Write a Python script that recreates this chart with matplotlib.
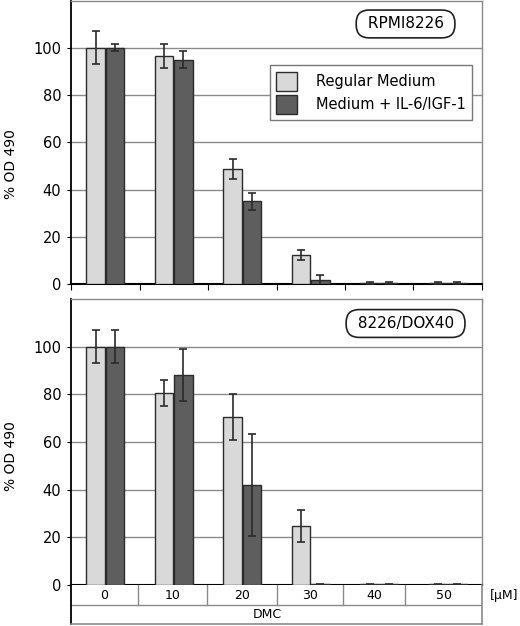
#!/usr/bin/env python3
"""DMC dose response in RPMI8226 and 8226/DOX40 cells, +/- IL-6/IGF-1."""

import matplotlib

matplotlib.use("Agg")
import matplotlib.pyplot as plt
from matplotlib.patches import Patch

doses = ["0", "10", "20", "30", "40", "50"]
series_names = ["Regular Medium", "Medium + IL-6/IGF-1"]
cell_lines = ["RPMI8226", "8226/DOX40"]

rpmi_regular = [100, 96.5, 48.5, 12.3, 0.5, 0.5]
rpmi_regular_err = [7, 5, 4.2, 2, 0.3, 0.3]
rpmi_il6 = [100, 95, 35, 1.5, 0.5, 0.5]
rpmi_il6_err = [1.5, 3.7, 3.5, 2.5, 0.3, 0.3]

dox_regular = [100, 80.5, 70.5, 24.8, 0.3, 0.3]
dox_regular_err = [7, 5.5, 9.7, 6.7, 0.2, 0.2]
dox_il6 = [100, 88, 42, 0.3, 0.3, 0.3]
dox_il6_err = [7, 11, 21.3, 0.2, 0.2, 0.2]

LIGHT = "#d9d9d9"
DARK = "#5e5e5e"
EDGE = "#2b2b2b"
GRID = "#8a8a8a"

W, H = 520, 626
LEFT, RIGHT = 71, 482


def fig_box(top_px, bottom_px):
    return [LEFT / W, 1 - bottom_px / H, (RIGHT - LEFT) / W, (bottom_px - top_px) / H]


def draw_panel(ax, regular, regular_err, il6, il6_err, cell_line, label_y):
    x = range(len(doses))
    off, bw = 0.14, 0.27
    for vals, errs, color, sign in ((regular, regular_err, LIGHT, -1), (il6, il6_err, DARK, 1)):
        pos = [i + sign * off for i in x]
        ax.bar(pos, vals, width=bw, color=color, edgecolor=EDGE, linewidth=1.0, zorder=3)
        ax.errorbar(pos, vals, yerr=errs, fmt="none", ecolor=EDGE, elinewidth=1.2,
                    capsize=3, capthick=1.2, zorder=4)

    ax.set_xlim(-0.5, len(doses) - 0.5)
    ax.set_ylim(0, 120)
    ax.set_yticks([0, 20, 40, 60, 80, 100])
    ax.tick_params(axis="y", labelsize=10.5, length=3, color="black", pad=4)
    for y in (20, 40, 60, 80, 100):
        ax.axhline(y, color=GRID, linewidth=1.0, zorder=1)
    for side in ("top", "right"):
        ax.spines[side].set_color(GRID)
        ax.spines[side].set_linewidth(1.0)
    ax.spines["left"].set_color("black")
    ax.spines["left"].set_linewidth(1.3)
    ax.spines["bottom"].set_color("black")
    ax.spines["bottom"].set_linewidth(1.5)

    ax.text(0.814, label_y, " " + cell_line + " ", transform=ax.transAxes,
            ha="center", va="center", fontsize=11,
            bbox=dict(boxstyle="round,pad=0.42,rounding_size=0.85",
                      facecolor="white", edgecolor="#222222", linewidth=1.2))


def main():
    fig = plt.figure(figsize=(W / 100, H / 100), dpi=100)

    ax_top = fig.add_axes(fig_box(0.5, 284))
    draw_panel(ax_top, rpmi_regular, rpmi_regular_err, rpmi_il6, rpmi_il6_err,
               cell_lines[0], 1 - 23.5 / 284)
    ax_top.set_xticks([i - 0.5 for i in range(len(doses) + 1)])
    ax_top.set_xticklabels([])
    ax_top.tick_params(axis="x", length=4, color="black", direction="out")

    handles = [Patch(facecolor=LIGHT, edgecolor=EDGE, linewidth=1.0),
               Patch(facecolor=DARK, edgecolor=EDGE, linewidth=1.0)]
    leg = ax_top.legend(handles, series_names, loc="upper right",
                        bbox_to_anchor=(401 / 411, 1 - 65 / 284), borderaxespad=0,
                        fontsize=10.5, fancybox=False, framealpha=1,
                        handlelength=1.4, handleheight=1.6, handletextpad=1.3,
                        labelspacing=0.3, borderpad=0.45)
    leg.get_frame().set_edgecolor("#777777")
    leg.get_frame().set_linewidth(1.0)
    leg.set_zorder(5)

    ax_bot = fig.add_axes(fig_box(299, 585))
    draw_panel(ax_bot, dox_regular, dox_regular_err, dox_il6, dox_il6_err,
               cell_lines[1], 1 - 24.5 / 286)
    ax_bot.set_xticks([])

    # category table under the lower panel
    ax_tab = fig.add_axes(fig_box(585, 624))
    ax_tab.set_xlim(-0.5, len(doses) - 0.5)
    ax_tab.set_ylim(0, 2)
    ax_tab.set_xticks([])
    ax_tab.set_yticks([])
    for side in ("right", "bottom"):
        ax_tab.spines[side].set_color(GRID)
        ax_tab.spines[side].set_linewidth(1.2)
    ax_tab.spines["top"].set_visible(False)
    ax_tab.spines["left"].set_color("black")
    ax_tab.spines["left"].set_linewidth(1.3)
    ax_tab.axhline(0.95, color=GRID, linewidth=1.0)
    seps = [-0.5, 0.478, 1.485, 2.507, 3.471, 4.376, 5.5]
    for s in seps[1:-1]:
        ax_tab.plot([s, s], [0.95, 2], color=GRID, linewidth=1.0)
    for i, lab in enumerate(doses):
        ax_tab.text((seps[i] + seps[i + 1]) / 2, 1.47, lab, ha="center", va="center", fontsize=9)
    ax_tab.text(2.36, 0.47, "DMC", ha="center", va="center", fontsize=9)
    ax_tab.text(5.62, 1.47, "[\u03bcM]", ha="left", va="center", fontsize=9, clip_on=False)

    fig.text(11 / W, 1 - 164 / H, "% OD 490", rotation=90, ha="center", va="center", fontsize=10)
    fig.text(11 / W, 1 - 456 / H, "% OD 490", rotation=90, ha="center", va="center", fontsize=10)

    fig.savefig("out.png", dpi=100, facecolor="white")


if __name__ == "__main__":
    main()
